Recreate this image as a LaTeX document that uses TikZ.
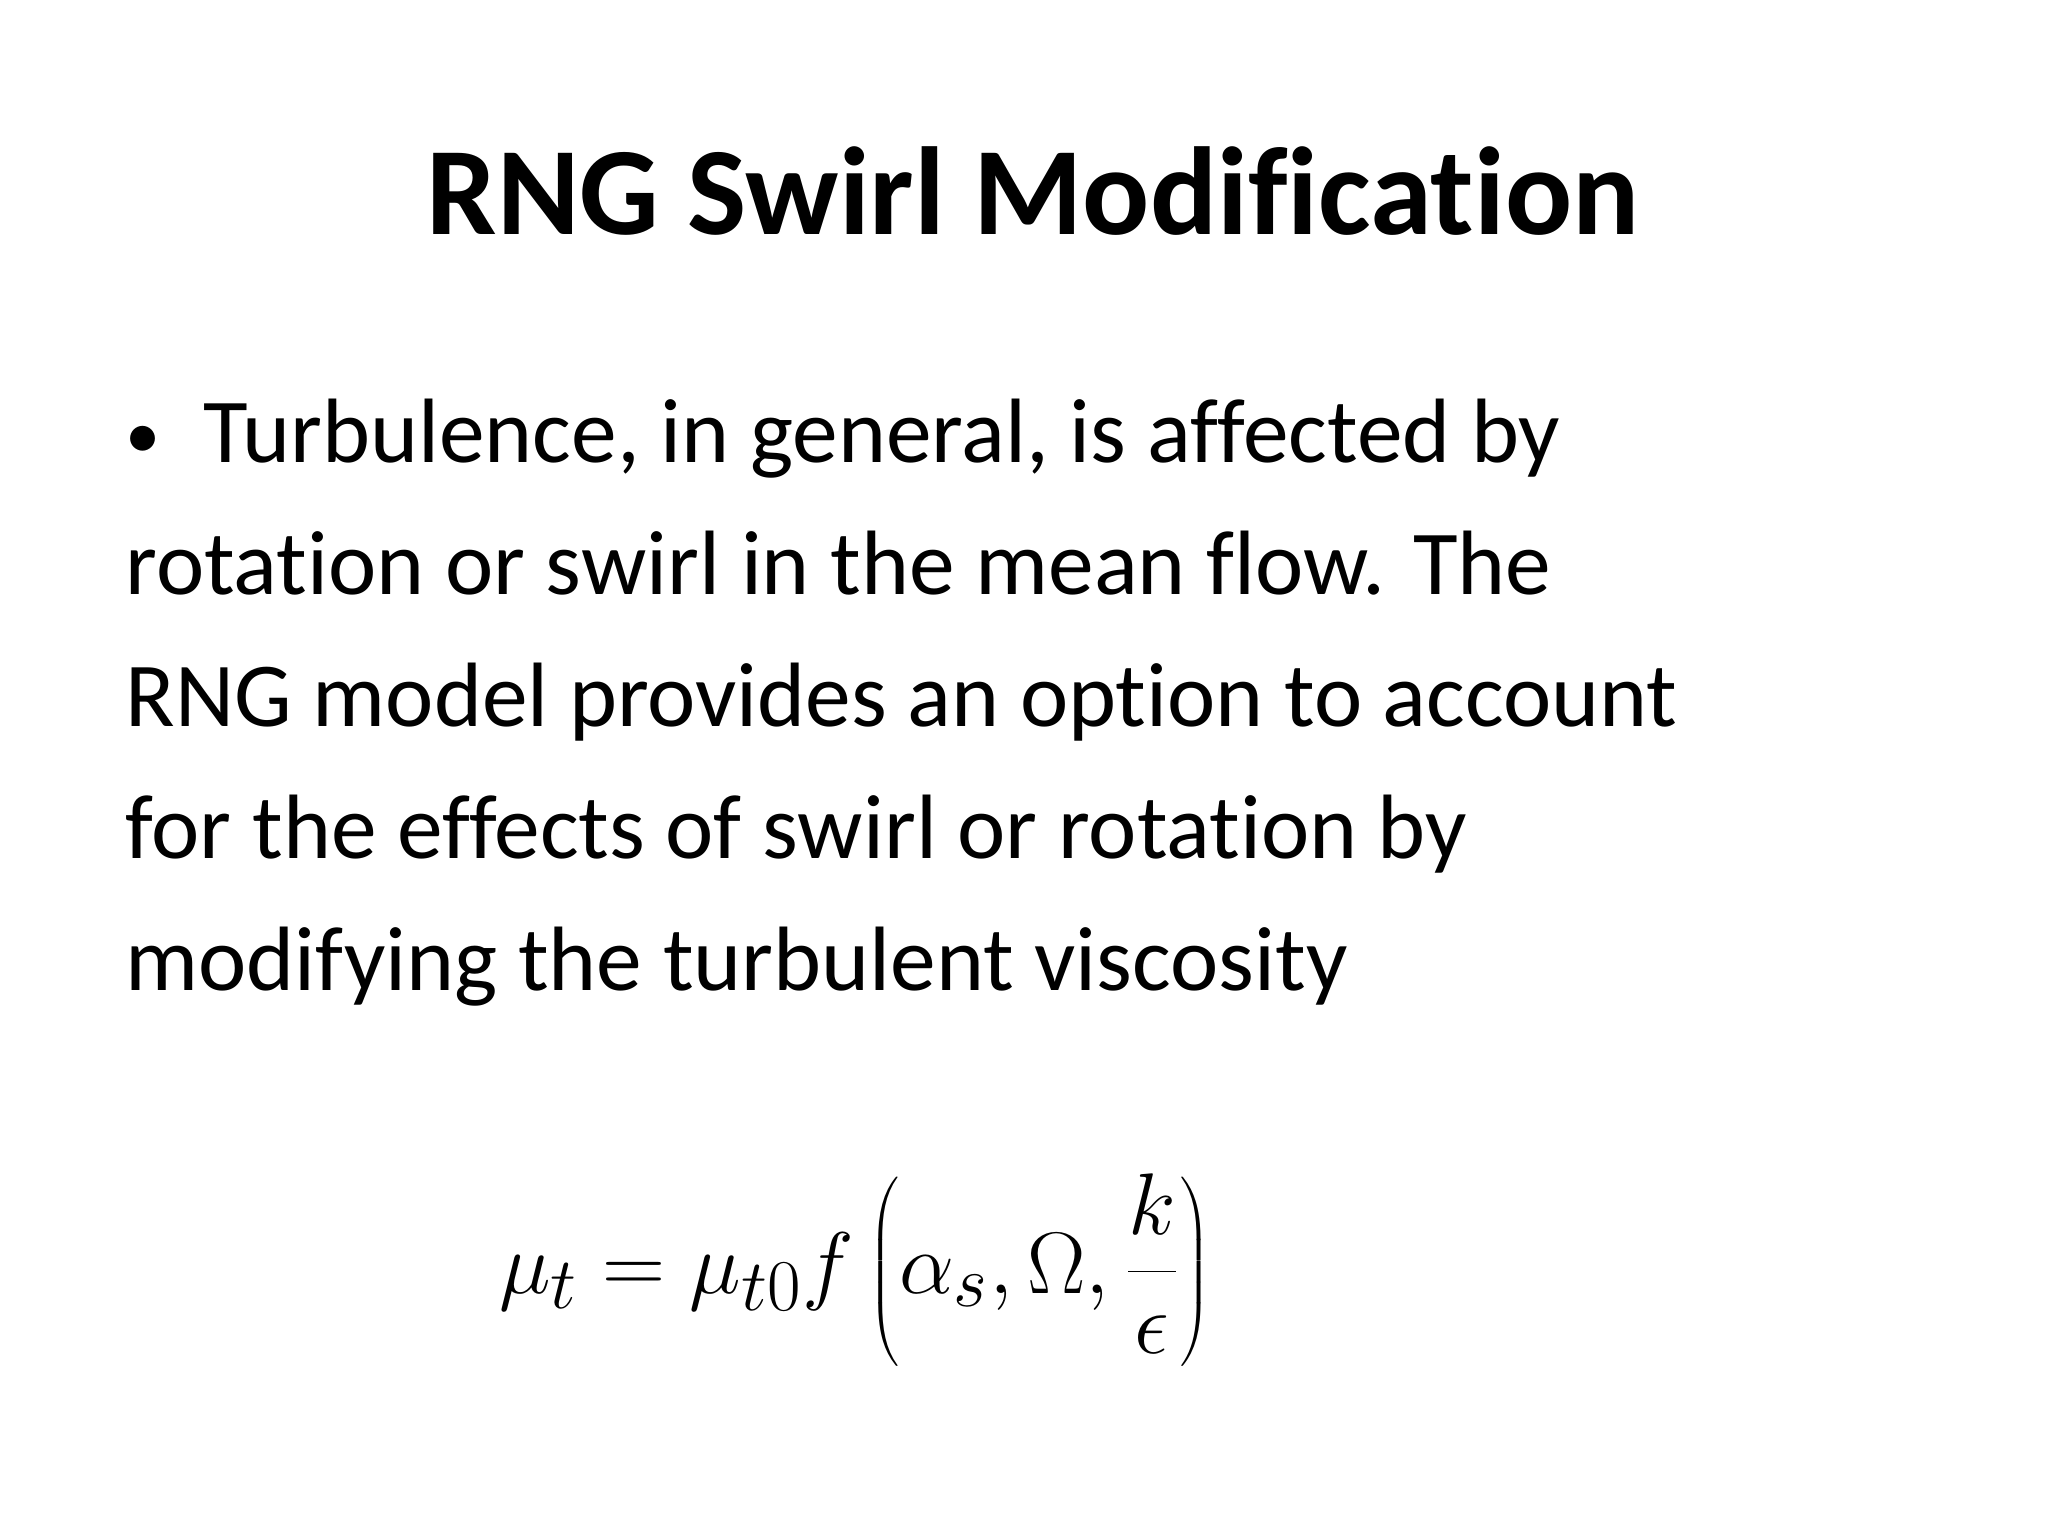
\documentclass[tikz,border=0pt]{standalone}
\usepackage{fontspec}
\setmainfont[Ligatures={NoCommon}]{Carlito}
\begin{document}
\begin{tikzpicture}[x=0.01cm,y=-0.01cm]
\useasboundingbox[fill=white] (0,0) rectangle (2048,1536);
\tikzset{body/.style={anchor=base west,inner sep=0pt,font=\fontsize{26}{32}\selectfont}}
\node[anchor=base,inner sep=0pt,font=\fontsize{35.6}{42}\selectfont\bfseries] (title) at (1033,234) {RNG Swirl Modification};
\node[body,font=\fontsize{20}{24}\selectfont] (b) at (125,458) {\textbullet};
\node[body] (l1) at (203,462) {Turbulence, in general, is affected by};
\node[body] (l2) at (125,594) {rotation or swirl in the mean flow. The};
\node[body] (l3) at (125,726) {RNG model provides an option to account};
\node[body] (l4) at (125,858) {for the effects of swirl or rotation by};
\node[body] (l5) at (125,990) {modifying the turbulent viscosity};
\node[inner sep=0pt,font=\fontsize{29}{34}\selectfont] (eq) at (855,1270) {$\displaystyle\mu_t=\mu_{t0}f\left(\alpha_s,\Omega,\frac{k}{\epsilon}\right)$};
\end{tikzpicture}
\end{document}
